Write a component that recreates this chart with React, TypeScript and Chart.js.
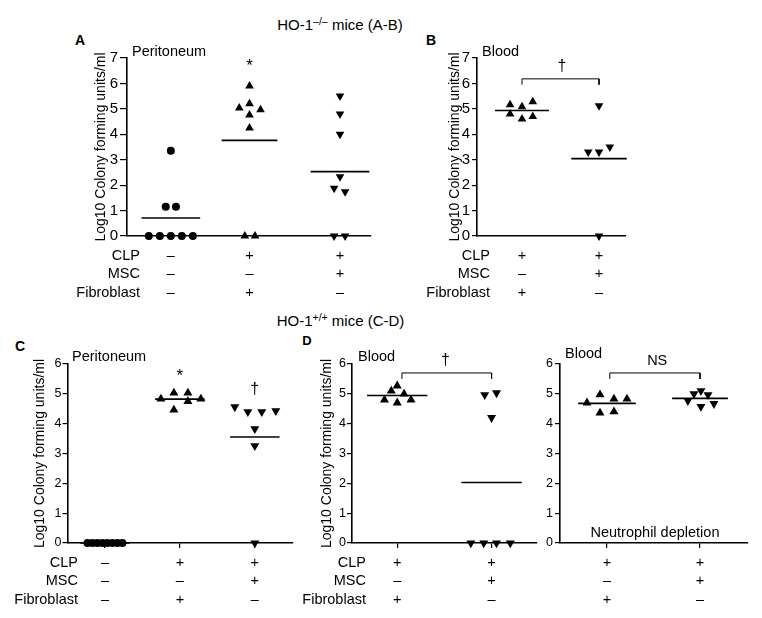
import React, { useEffect, useRef } from "react";
import { Chart, registerables } from "chart.js";

Chart.register(...registerables);

const FONT = '"Liberation Sans", Arial, Helvetica, sans-serif';
Chart.defaults.font.family = FONT;
Chart.defaults.color = "#000";

// ---------- shared ----------
const rowLabels = ["CLP", "MSC", "Fibroblast"];
const yAxisTitle = "Log10 Colony forming units/ml";

// ---------- A: HO-1-/- peritoneum ----------
const aGroupX = [1, 2, 3.15];
const aShamDx = [-0.28, -0.14, 0, 0.14, 0.28, -0.065, 0.065, 0];
const aShamY = [0, 0, 0, 0, 0, 1.15, 1.15, 3.35];
const aFibroDx = [0, -0.13, 0, 0.14, 0, 0, -0.06, 0.07];
const aFibroY = [5.9, 5.03, 5.2, 4.96, 4.76, 4.25, 0, 0];
const aMscDx = [0, 0, 0, 0, -0.075, 0.065, -0.075, 0.065];
const aMscY = [5.51, 4.8, 4.0, 2.33, 1.88, 1.74, 0, 0];
const aSigns = [["–", "–", "–"], ["+", "–", "+"], ["+", "+", "–"]];

// ---------- B: HO-1-/- blood ----------
const bGroupX = [1, 2];
const bFibroDx = [-0.155, 0, 0.14, -0.155, 0, 0.14];
const bFibroY = [5.16, 5.08, 5.28, 4.8, 4.6, 4.7];
const bMscDx = [0, -0.14, 0, 0.14, 0];
const bMscY = [5.12, 3.3, 3.3, 3.5, 0];
const bSigns = [["+", "–", "+"], ["+", "+", "–"]];

// ---------- C: HO-1+/+ peritoneum ----------
const cGroupX = [1, 2, 3];
const cShamDx = [-0.233, -0.167, -0.1, -0.033, 0.033, 0.1, 0.167, 0.233];
const cShamY = [0, 0, 0, 0, 0, 0, 0, 0];
const cFibroDx = [-0.253, -0.08, 0.107, 0.28, 0.107, -0.08];
const cFibroY = [4.83, 5.03, 5.03, 4.83, 4.75, 4.46];
const cMscDx = [-0.267, -0.093, 0.093, 0.28, 0, 0, 0];
const cMscY = [4.56, 4.4, 4.4, 4.43, 3.83, 3.26, 0];
const cSigns = [["–", "–", "–"], ["+", "–", "+"], ["+", "+", "–"]];

// ---------- D: HO-1+/+ blood ----------
const dGroupX = [1, 2];
const dFibroDx = [-0.135, -0.063, 0, 0.073, 0.146, 0];
const dFibroY = [4.8, 5.1, 5.27, 5.0, 4.8, 4.7];
const dMscDx = [-0.073, 0.052, 0, -0.22, -0.083, 0.052, 0.198];
const dMscY = [4.97, 5.03, 4.2, 0, 0, 0, 0];
const dSigns = [["+", "–", "+"], ["+", "+", "–"]];

// ---------- D (right): neutrophil depletion, blood ----------
const eGroupX = [1, 2];
const eFibroDx = [-0.215, -0.075, 0.075, 0.215, -0.075, 0.075];
const eFibroY = [4.7, 4.97, 4.83, 4.83, 4.36, 4.4];
const eMscDx = [-0.13, -0.065, 0.01, 0.086, 0.01, 0.15];
const eMscY = [4.77, 5.0, 5.1, 4.97, 4.57, 4.67];
const eSigns = [["+", "–", "+"], ["+", "+", "–"]];

type Shape = "circle" | "up" | "down";
interface Group {
  x: number;
  dx: number[];
  y: number[];
  shape: Shape;
  signs: string[];
  mark?: string;
  markY?: number;
  half: number;
}
interface Bracket {
  x1: number;
  x2: number;
  top: number;
  leg: number;
  label: string;
  lx: number;
  ly: number;
  size: number;
}
interface Panel {
  id: string;
  left: number;
  top: number;
  w: number;
  h: number;
  pad: { left: number; right: number; top: number; bottom: number };
  yWidth: number;
  xMin: number;
  xMax: number;
  yMax: number;
  tickSize: number;
  tickPad: number;
  yTickLen: number;
  showTitle: boolean;
  xTickLen: number;
  mSize: number;
  groups: Group[];
  subtitle: string;
  subDx: number;
  subDy: number;
  rowDx: number | null;
  bracket?: Bracket;
  note?: { text: string; x: number; y: number };
}

const panels: Panel[] = [
  {
    id: "A",
    left: 60, top: 30, w: 316, h: 280,
    pad: { left: 32.6, right: 4, top: 28, bottom: 68 },
    yWidth: 34.4,
    xMin: 0.443, xMax: 3.544, yMax: 7, tickSize: 15, tickPad: 2, yTickLen: 7,
    showTitle: true, xTickLen: 0, mSize: 5,
    groups: [
      { x: aGroupX[0], dx: aShamDx, y: aShamY, shape: "circle", signs: aSigns[0], half: 0.373 },
      { x: aGroupX[1], dx: aFibroDx, y: aFibroY, shape: "up", signs: aSigns[1], mark: "*", markY: 6.67, half: 0.354 },
      { x: aGroupX[2], dx: aMscDx, y: aMscY, shape: "down", signs: aSigns[2], half: 0.373 },
    ],
    subtitle: "Peritoneum", subDx: 5, subDy: -6, rowDx: 13,
  },
  {
    id: "B",
    left: 420, top: 30, w: 214, h: 280,
    pad: { left: 26.6, right: 8, top: 28, bottom: 68 },
    yWidth: 30.4,
    xMin: 0.416, xMax: 2.35, yMax: 7, tickSize: 15, tickPad: 2, yTickLen: 5,
    showTitle: true, xTickLen: 0, mSize: 5,
    groups: [
      { x: bGroupX[0], dx: bFibroDx, y: bFibroY, shape: "up", signs: bSigns[0], half: 0.35 },
      { x: bGroupX[1], dx: bMscDx, y: bMscY, shape: "down", signs: bSigns[1], half: 0.36 },
    ],
    bracket: { x1: 1, x2: 2, top: 6.18, leg: 5.95, label: "†", lx: 1.52, ly: 6.67, size: 16 },
    subtitle: "Blood", subDx: 5, subDy: -6, rowDx: 13,
  },
  {
    id: "C",
    left: 5, top: 330, w: 293, h: 287,
    pad: { left: 26.6, right: 5, top: 34, bottom: 68 },
    yWidth: 36.4,
    xMin: 0.507, xMax: 3.507, yMax: 6, tickSize: 12.5, tickPad: 1, yTickLen: 5.5,
    showTitle: true, xTickLen: 5, mSize: 5.2,
    groups: [
      { x: cGroupX[0], dx: cShamDx, y: cShamY, shape: "circle", signs: cSigns[0], half: 0.33 },
      { x: cGroupX[1], dx: cFibroDx, y: cFibroY, shape: "up", signs: cSigns[1], mark: "*", markY: 5.6, half: 0.33 },
      { x: cGroupX[2], dx: cMscDx, y: cMscY, shape: "down", signs: cSigns[2], mark: "†", markY: 5.13, half: 0.33 },
    ],
    subtitle: "Peritoneum", subDx: 4, subDy: -7, rowDx: 10,
  },
  {
    id: "D",
    left: 300, top: 330, w: 242, h: 287,
    pad: { left: 18.6, right: 2, top: 34, bottom: 68 },
    yWidth: 33.4,
    xMin: 0.521, xMax: 2.479, yMax: 6, tickSize: 12.5, tickPad: 1, yTickLen: 5,
    showTitle: true, xTickLen: 5, mSize: 5.2,
    groups: [
      { x: dGroupX[0], dx: dFibroDx, y: dFibroY, shape: "up", signs: dSigns[0], half: 0.32 },
      { x: dGroupX[1], dx: dMscDx, y: dMscY, shape: "down", signs: dSigns[1], half: 0.32 },
    ],
    bracket: { x1: 1.05, x2: 2, top: 5.7, leg: 5.5, label: "†", lx: 1.51, ly: 6.13, size: 16 },
    subtitle: "Blood", subDx: 6, subDy: -7, rowDx: 14,
  },
  {
    id: "E",
    left: 542, top: 330, w: 212, h: 287,
    pad: { left: 0, right: 6, top: 34, bottom: 68 },
    yWidth: 18,
    xMin: 0.495, xMax: 2.516, yMax: 6, tickSize: 12.5, tickPad: 2, yTickLen: 5,
    showTitle: false, xTickLen: 5, mSize: 5.2,
    groups: [
      { x: eGroupX[0], dx: eFibroDx, y: eFibroY, shape: "up", signs: eSigns[0], half: 0.31 },
      { x: eGroupX[1], dx: eMscDx, y: eMscY, shape: "down", signs: eSigns[1], half: 0.3 },
    ],
    bracket: { x1: 1.03, x2: 2, top: 5.7, leg: 5.5, label: "NS", lx: 1.54, ly: 6.1, size: 14.5 },
    subtitle: "Blood", subDx: 5, subDy: -10, rowDx: null,
    note: { text: "Neutrophil depletion", x: 1.516, y: 0.335 },
  },
];

const ROW_DY = [19.5, 38, 56.5];

function makeTextPlugin(p: Panel) {
  return {
    id: "panelText" + p.id,
    afterDraw(chart: any) {
      const { ctx, chartArea } = chart;
      const xs = chart.scales.x;
      const ys = chart.scales.y;
      const base = `14.5px ${FONT}`;
      ctx.save();
      ctx.fillStyle = "#000";
      ctx.textBaseline = "middle";
      ctx.font = base;
      ctx.textAlign = "left";
      ctx.fillText(p.subtitle, chartArea.left + p.subDx, chartArea.top + p.subDy);
      if (p.rowDx !== null) {
        ctx.textAlign = "right";
        rowLabels.forEach((lab, i) =>
          ctx.fillText(lab, chartArea.left + (p.rowDx as number), chartArea.bottom + ROW_DY[i])
        );
      }
      ctx.textAlign = "center";
      p.groups.forEach((g) => {
        const gx = xs.getPixelForValue(g.x);
        ctx.font = base;
        g.signs.forEach((s, i) => ctx.fillText(s, gx, chartArea.bottom + ROW_DY[i]));
        if (g.mark && g.markY !== undefined) {
          ctx.font = g.mark === "*" ? `17px ${FONT}` : `16px ${FONT}`;
          ctx.fillText(g.mark, gx, ys.getPixelForValue(g.markY));
        }
      });
      if (p.bracket) {
        ctx.font = `${p.bracket.size}px ${FONT}`;
        ctx.fillText(p.bracket.label, xs.getPixelForValue(p.bracket.lx), ys.getPixelForValue(p.bracket.ly));
      }
      if (p.note) {
        ctx.font = base;
        ctx.fillText(p.note.text, xs.getPixelForValue(p.note.x), ys.getPixelForValue(p.note.y));
      }
      ctx.restore();
    },
  };
}

function buildDatasets(p: Panel) {
  const ds: any[] = [];
  p.groups.forEach((g) => {
    ds.push({
      data: g.y.map((v, i) => ({ x: g.x + g.dx[i], y: v })),
      pointStyle: g.shape === "circle" ? "circle" : "triangle",
      pointRotation: g.shape === "down" ? 180 : 0,
      pointRadius: g.shape === "circle" ? 4 : p.mSize,
      pointBackgroundColor: "#000",
      pointBorderColor: "#000",
      pointBorderWidth: 0,
      backgroundColor: "#000",
      borderColor: "#000",
      showLine: false,
      clip: false,
    });
    const mean = g.y.reduce((a, b) => a + b, 0) / g.y.length;
    ds.push({
      data: [
        { x: g.x - g.half, y: mean },
        { x: g.x + g.half, y: mean },
      ],
      showLine: true,
      borderColor: "#000",
      borderWidth: 1.6,
      pointRadius: 0,
      clip: false,
    });
  });
  if (p.bracket) {
    const b = p.bracket;
    ds.push({
      data: [
        { x: b.x1, y: b.leg },
        { x: b.x1, y: b.top },
        { x: b.x2, y: b.top },
        { x: b.x2, y: b.leg },
      ],
      showLine: true,
      borderColor: "#000",
      borderWidth: 1,
      pointRadius: 0,
      tension: 0,
      clip: false,
    });
  }
  return ds;
}

function makeConfig(p: Panel): any {
  return {
    type: "scatter",
    data: { datasets: buildDatasets(p) },
    plugins: [makeTextPlugin(p)],
    options: {
      animation: false,
      responsive: false,
      maintainAspectRatio: false,
      events: [],
      layout: { padding: p.pad },
      plugins: { legend: { display: false }, tooltip: { enabled: false } },
      scales: {
        x: {
          type: "linear",
          min: p.xMin,
          max: p.xMax,
          afterBuildTicks: (s: any) => {
            s.ticks = p.groups.map((g) => ({ value: g.x }));
          },
          ticks: { display: false },
          grid: {
            display: p.xTickLen > 0,
            drawOnChartArea: false,
            drawTicks: p.xTickLen > 0,
            tickLength: p.xTickLen,
            color: "#000",
            lineWidth: 1.2,
          },
          border: { display: true, color: "#000", width: 1.6 },
          afterFit: (s: any) => {
            s.height = 6;
          },
        },
        y: {
          type: "linear",
          min: 0,
          max: p.yMax,
          ticks: {
            stepSize: 1,
            color: "#000",
            padding: p.tickPad,
            font: { size: p.tickSize, family: FONT },
          },
          grid: {
            display: true,
            drawOnChartArea: false,
            drawTicks: true,
            tickLength: p.yTickLen,
            color: "#000",
            lineWidth: 1.2,
          },
          border: { display: true, color: "#000", width: 1.6 },
          title: {
            display: p.showTitle,
            text: yAxisTitle,
            color: "#000",
            padding: 0,
            font: { size: 14, family: FONT },
          },
          afterFit: (s: any) => {
            s.width = p.yWidth;
          },
        },
      },
    },
  };
}

function PanelChart({ panel }: { panel: Panel }) {
  const ref = useRef<HTMLCanvasElement>(null);
  useEffect(() => {
    if (!ref.current) return;
    const chart = new Chart(ref.current, makeConfig(panel));
    return () => chart.destroy();
  }, [panel]);
  return (
    <canvas
      ref={ref}
      width={panel.w}
      height={panel.h}
      style={{ position: "absolute", left: panel.left, top: panel.top, width: panel.w, height: panel.h }}
    />
  );
}

function Heading({ x, y, sup, rest }: { x: number; y: number; sup: string; rest: string }) {
  return (
    <div
      style={{
        position: "absolute",
        left: x,
        top: y,
        transform: "translate(-50%, -50%)",
        fontSize: 15,
        lineHeight: 1,
        whiteSpace: "nowrap",
        color: "#000",
      }}
    >
      HO-1
      <span style={{ fontSize: 10.5, position: "relative", top: -5 }}>{sup}</span>
      {rest}
    </div>
  );
}

function Letter({ x, y, text, size }: { x: number; y: number; text: string; size: number }) {
  return (
    <div
      style={{
        position: "absolute",
        left: x,
        top: y,
        transform: "translate(-50%, -50%)",
        fontSize: size,
        fontWeight: 700,
        lineHeight: 1,
        color: "#000",
      }}
    >
      {text}
    </div>
  );
}

export default function App() {
  return (
    <div
      style={{
        position: "fixed",
        left: 0,
        top: 0,
        width: 762,
        height: 618,
        overflow: "hidden",
        background: "#fff",
        fontFamily: FONT,
      }}
    >
      <Heading x={340} y={24} sup="–/–" rest=" mice (A-B)" />
      <Heading x={340.5} y={320} sup="+/+" rest=" mice (C-D)" />
      <Letter x={80} y={40} text="A" size={14} />
      <Letter x={431} y={40} text="B" size={14} />
      <Letter x={20} y={346} text="C" size={14} />
      <Letter x={307} y={340} text="D" size={13} />
      {panels.map((p) => (
        <PanelChart key={p.id} panel={p} />
      ))}
    </div>
  );
}
